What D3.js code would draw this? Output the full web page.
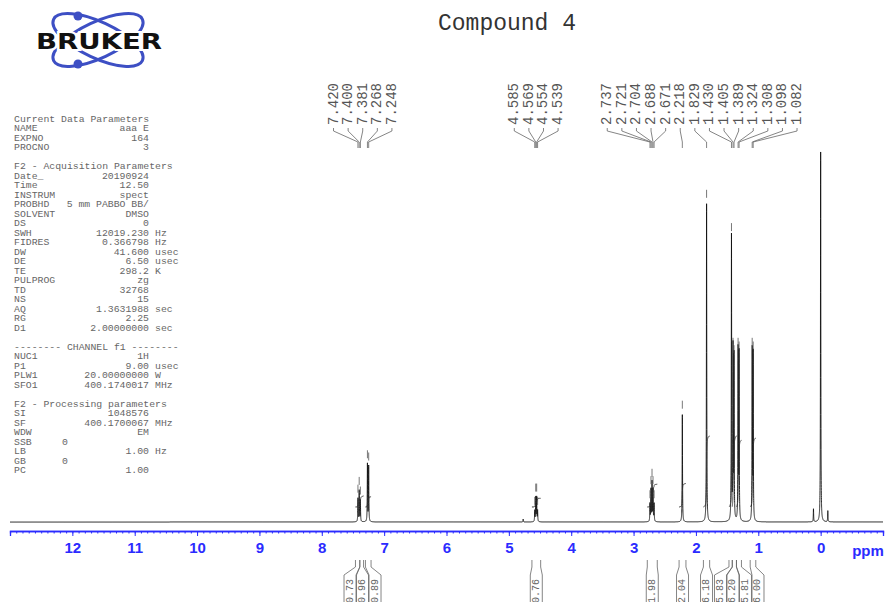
<!DOCTYPE html>
<html>
<head>
<meta charset="utf-8">
<script src="https://cdn.jsdelivr.net/npm/d3@7"></script>
<style>
  body { margin: 0; background: #fff; }
  svg { display: block; }
</style>
</head>
<body>
<div id="chart-area"></div>
<script>
// canvas size
const canvasWidth = 885;
const canvasHeight = 602;

// labelled peaks (ppm) and their heights (percent of the TMS peak)
const peakPpm = [7.420, 7.400, 7.381, 7.268, 7.248,
	4.585, 4.569, 4.554, 4.539,
	2.737, 2.721, 2.704, 2.688, 2.671, 2.218, 1.829,
	1.430, 1.405, 1.389, 1.324, 1.308, 1.098, 1.082];
const peakHeight = [6.3, 8.4, 5.8, 15.6, 15.0,
	3.0, 6.6, 6.6, 3.0,
	4.8, 8.6, 10.6, 8.6, 4.8, 29.0, 86,
	77, 46, 44, 46, 45, 46, 45];

// unlabelled peaks (TMS and small bumps)
const extraPpm = [4.77, 0.115, 0.000, -0.115];
const extraHeight = [0.8, 3.5, 100, 3.0];

// integral regions (ppm) and values
const intFrom = [7.46, 7.39, 7.30, 4.63, 2.78, 2.27, 1.88, 1.47, 1.417, 1.35, 1.13];
const intTo = [7.39, 7.33, 7.21, 4.49, 2.62, 2.16, 1.78, 1.417, 1.35, 1.27, 1.04];
const intValue = [0.73, 0.96, 0.89, 0.76, 1.98, 2.04, 6.18, 5.83, 6.20, 5.81, 6.00];

// axis ticks
const majorTicks = d3.range(0, 13);
const minorTicks = d3.range(-10, 131).map((d) => d / 10);

// acquisition parameter text ([] = blank, [text] = heading)
const paramRows = [
	["Current Data Parameters"],
	["NAME", "aaa E"],
	["EXPNO", "164"],
	["PROCNO", "3"],
	[],
	["F2 - Acquisition Parameters"],
	["Date_", "20190924"],
	["Time", "12.50"],
	["INSTRUM", "spect"],
	["PROBHD", "5 mm PABBO BB/"],
	["SOLVENT", "DMSO"],
	["DS", "0"],
	["SWH", "12019.230", "Hz"],
	["FIDRES", "0.366798", "Hz"],
	["DW", "41.600", "usec"],
	["DE", "6.50", "usec"],
	["TE", "298.2", "K"],
	["PULPROG", "zg"],
	["TD", "32768"],
	["NS", "15"],
	["AQ", "1.3631988", "sec"],
	["RG", "2.25"],
	["D1", "2.00000000", "sec"],
	[],
	["-------- CHANNEL f1 --------"],
	["NUC1", "1H"],
	["P1", "9.00", "usec"],
	["PLW1", "20.00000000", "W"],
	["SFO1", "400.1740017", "MHz"],
	[],
	["F2 - Processing parameters"],
	["SI", "1048576"],
	["SF", "400.1700067", "MHz"],
	["WDW", "EM"],
	["SSB", "0", "", "left"],
	["LB", "1.00", "Hz"],
	["GB", "0", "", "left"],
	["PC", "1.00"]
];

const mono = "'Liberation Mono', 'DejaVu Sans Mono', monospace";
const axisColor = "#2b2bff";

// select the canvas
const svg = d3.select("#chart-area")
	.append("svg")
		.attr("width", canvasWidth)
		.attr("height", canvasHeight);

// scales
const xScale = d3.scaleLinear()
	.domain([13, -1])
	.range([10, 883]);

const yScale = d3.scaleLinear()
	.domain([0, 100])
	.range([522, 152]);

// integral trace: one unit of integral
const intScale = d3.scaleLinear()
	.domain([0, 1])
	.range([507, 495.5]);

// ---------- Bruker logo ----------
const logo = svg.append("g");
[25, -25].forEach((a) => {
	logo.append("ellipse")
		.attr("cx", 98).attr("cy", 40)
		.attr("rx", 49).attr("ry", 18)
		.attr("transform", `rotate(${a},98,40)`)
		.attr("fill", "none")
		.attr("stroke", "#3d4fc4")
		.attr("stroke-width", 3);
});
[[78, 16], [78, 64]].forEach((p) => {
	logo.append("circle")
		.attr("cx", p[0]).attr("cy", p[1]).attr("r", 4.5)
		.attr("fill", "#3d4fc4");
});
logo.append("text")
	.attr("x", 36)
	.attr("y", 49)
	.attr("textLength", 126)
	.attr("lengthAdjust", "spacingAndGlyphs")
	.attr("font-family", "'DejaVu Sans', sans-serif")
	.attr("font-weight", "bold")
	.attr("font-size", "21px")
	.attr("fill", "#111")
	.attr("stroke", "#fff")
	.attr("stroke-width", 4)
	.attr("paint-order", "stroke")
	.text("BRUKER");

// ---------- title ----------
svg.append("text")
	.attr("x", 507)
	.attr("y", 30)
	.attr("text-anchor", "middle")
	.attr("font-family", mono)
	.attr("font-size", "23px")
	.attr("fill", "#333")
	.text("Compound 4");

// ---------- parameter block ----------
const params = svg.append("g")
	.attr("font-family", mono)
	.attr("font-size", "9.8px")
	.attr("fill", "#666");

paramRows.forEach((row, i) => {
	const y = 121.5 + i * 9.5;
	if (row.length === 0) return;
	params.append("text").attr("x", 14).attr("y", y).text(row[0]);
	if (row.length > 1) {
		if (row[3] === "left") {
			params.append("text").attr("x", 62).attr("y", y).text(row[1]);
		} else {
			params.append("text").attr("x", 149).attr("y", y)
				.attr("text-anchor", "end").text(row[1]);
		}
	}
	if (row[2]) {
		params.append("text").attr("x", 155).attr("y", y).text(row[2]);
	}
});

// ---------- spectrum ----------
const gamma = 0.0032;
const allPpm = peakPpm.concat(extraPpm);
const allHeight = peakHeight.concat(extraHeight);

const intensity = (p) => {
	let s = 0;
	for (let i = 0; i < allPpm.length; i++) {
		const d = p - allPpm[i];
		s += allHeight[i] * gamma * gamma / (gamma * gamma + d * d);
	}
	return s;
};

const grid = d3.range(-1, 13.0001, 0.0005).concat(allPpm).sort((a, b) => b - a);
const spectrum = grid.map((p) => ({ ppm: p, val: intensity(p) }));

const line = d3.line()
	.x((d) => xScale(d.ppm))
	.y((d) => yScale(d.val));

svg.append("path")
	.datum(spectrum)
	.attr("d", line)
	.attr("fill", "none")
	.attr("stroke", "#111")
	.attr("stroke-width", 0.9);

// peak-pick markers
svg.append("g")
	.selectAll("line")
	.data(peakPpm.map((p, i) => ({ ppm: p, h: peakHeight[i] })))
	.enter()
	.append("line")
		.attr("x1", (d) => xScale(d.ppm))
		.attr("x2", (d) => xScale(d.ppm))
		.attr("y1", (d) => yScale(d.h) - 14)
		.attr("y2", (d) => yScale(d.h) - 6)
		.attr("stroke", "#555")
		.attr("stroke-width", 0.8);

// integral traces
intFrom.forEach((from, k) => {
	const to = intTo[k];
	const pts = spectrum.filter((d) => d.ppm <= from && d.ppm >= to);
	const total = d3.sum(pts, (d) => d.val);
	let cum = 0;
	const trace = pts.map((d) => {
		cum += d.val;
		return { ppm: d.ppm, v: cum / total * intValue[k] };
	});
	svg.append("path")
		.datum(trace)
		.attr("d", d3.line().x((d) => xScale(d.ppm)).y((d) => intScale(d.v)))
		.attr("fill", "none")
		.attr("stroke", "#333")
		.attr("stroke-width", 0.9);
});

// ---------- label placement (spread overlapping labels) ----------
const spread = (xs, gap) => {
	let clusters = xs.map((x) => ({ n: 1, sum: x, start: x }));
	let merged = true;
	while (merged) {
		merged = false;
		for (let i = 0; i < clusters.length - 1; i++) {
			const a = clusters[i], b = clusters[i + 1];
			if (a.start + a.n * gap > b.start) {
				const n = a.n + b.n, sum = a.sum + b.sum;
				clusters.splice(i, 2, { n: n, sum: sum, start: sum / n - (n - 1) * gap / 2 });
				merged = true;
				break;
			}
		}
	}
	const out = [];
	clusters.forEach((c) => {
		for (let j = 0; j < c.n; j++) out.push(c.start + j * gap);
	});
	return out;
};

// peak labels on top
const peakX = peakPpm.map((p) => xScale(p));
const peakLabelX = spread(peakX, 14.6);

const peakLabels = svg.append("g");
peakPpm.forEach((p, i) => {
	const lx = peakLabelX[i];
	peakLabels.append("path")
		.attr("d", `M${lx},128V131L${peakX[i]},142V148`)
		.attr("fill", "none")
		.attr("stroke", "#666")
		.attr("stroke-width", 0.8);
	peakLabels.append("text")
		.attr("transform", `translate(${lx},125) rotate(-90)`)
		.attr("dominant-baseline", "central")
		.attr("font-family", mono)
		.attr("font-size", "14px")
		.attr("fill", "#555")
		.text(p.toFixed(3));
});

// ---------- ppm axis ----------
const minorAxis = d3.axisBottom(xScale)
	.tickValues(minorTicks)
	.tickSize(2.5)
	.tickFormat("");

const majorAxis = d3.axisBottom(xScale)
	.tickValues(majorTicks)
	.tickSize(5)
	.tickPadding(6)
	.tickFormat((d) => d);

const gMinor = svg.append("g")
	.attr("transform", "translate(0,531)")
	.call(minorAxis);

const gMajor = svg.append("g")
	.attr("transform", "translate(0,531)")
	.call(majorAxis);

[gMinor, gMajor].forEach((g) => {
	g.select(".domain").attr("stroke", axisColor).attr("stroke-width", 1.3);
	g.selectAll(".tick line").attr("stroke", axisColor);
});
gMajor.selectAll(".tick text")
	.attr("fill", axisColor)
	.attr("font-family", "'Liberation Sans', Arial, sans-serif")
	.attr("font-weight", "bold")
	.attr("font-size", "15px");

svg.append("text")
	.attr("x", 868)
	.attr("y", 556)
	.attr("text-anchor", "middle")
	.attr("fill", axisColor)
	.attr("font-family", "'Liberation Sans', Arial, sans-serif")
	.attr("font-weight", "bold")
	.attr("font-size", "15px")
	.text("ppm");

// ---------- integral labels below ----------
const intMid = intFrom.map((f, k) => xScale((f + intTo[k]) / 2));
const intLabelX = spread(intMid, 12.5);

const intLabels = svg.append("g");
intFrom.forEach((f, k) => {
	const lx = intLabelX[k];
	const x1 = xScale(f), x2 = xScale(intTo[k]);
	intLabels.append("path")
		.attr("d", `M${x1},560V567L${lx - 6},575V602M${x2},560V567L${lx + 6},575V602`)
		.attr("fill", "none")
		.attr("stroke", "#666")
		.attr("stroke-width", 0.8);
	intLabels.append("text")
		.attr("transform", `translate(${lx},579) rotate(-90)`)
		.attr("text-anchor", "end")
		.attr("dominant-baseline", "central")
		.attr("font-family", mono)
		.attr("font-size", "10px")
		.attr("fill", "#666")
		.text(intValue[k].toFixed(2));
});
</script>
</body>
</html>
